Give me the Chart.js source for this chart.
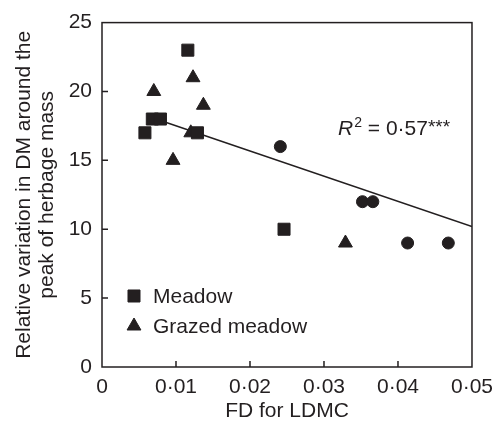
<!DOCTYPE html>
<html>
<head>
<meta charset="utf-8">
<script src="https://cdn.jsdelivr.net/npm/chart.js@4/dist/chart.umd.min.js"></script>
<style>
  html, body { margin: 0; padding: 0; background: #fff; }
  #wrap { width: 501px; height: 430px; position: relative; }
</style>
</head>
<body>
<div id="wrap"><canvas id="c" width="501" height="430"></canvas></div>
<script>
// ---- data ----
const meadowX = [0.0058, 0.0068, 0.0079, 0.0116, 0.0129, 0.0246];
const meadowY = [17, 18, 18, 23, 17, 10];
const grazedX = [0.0070, 0.0123, 0.0137, 0.0120, 0.0096, 0.0329];
const grazedY = [20, 21, 19, 17, 15, 9];
const otherX = [0.0241, 0.0352, 0.0366, 0.0413, 0.0468];
const otherY = [16, 12, 12, 9, 9];
const fitX = [0.0068, 0.05];
const fitY = [18.1, 10.2];
const xTickValues = [0, 0.01, 0.02, 0.03, 0.04, 0.05];
const yTickValues = [0, 5, 10, 15, 20, 25];
const seriesNames = ['Meadow', 'Grazed meadow'];
const r2Label = { base: 'R', sup: '2', rest: ' = 0\u00b757', stars: '***' };
const xTitle = 'FD for LDMC';
const yTitle = ['Relative variation in DM around the', 'peak of herbage mass'];

const INK = '#231f20';
const FONT = "'Liberation Sans', Arial, Helvetica, sans-serif";
const FS = 21;

function pts(xs, ys) { return xs.map((x, i) => ({ x: x, y: ys[i] })); }
function fmtX(v) {
  if (Math.abs(v) < 1e-9) return '0';
  return v.toFixed(2).replace('.', '\u00b7');
}

const framePlugin = {
  id: 'frame',
  afterDatasetsDraw(chart) {
    const { ctx, chartArea: a, scales } = chart;
    ctx.save();
    ctx.strokeStyle = INK;
    ctx.lineWidth = 1.5;
    ctx.strokeRect(a.left, a.top, a.right - a.left, a.bottom - a.top);
    // inward ticks
    ctx.beginPath();
    xTickValues.forEach(v => {
      const px = scales.x.getPixelForValue(v);
      if (px > a.left + 1 && px < a.right - 1) {
        ctx.moveTo(px, a.bottom);
        ctx.lineTo(px, a.bottom - 6);
      }
    });
    yTickValues.forEach(v => {
      const py = scales.y.getPixelForValue(v);
      if (py > a.top + 1 && py < a.bottom - 1) {
        ctx.moveTo(a.left, py);
        ctx.lineTo(a.left + 6, py);
      }
    });
    ctx.stroke();

    // legend (inside plot)
    const lx = 134;
    const items = [
      { style: 'rect', r: 8.5, y: 296, text: seriesNames[0] },
      { style: 'triangle', r: 8, y: 326, text: seriesNames[1] }
    ];
    ctx.fillStyle = INK;
    ctx.font = FS + 'px ' + FONT;
    ctx.textBaseline = 'middle';
    ctx.textAlign = 'left';
    items.forEach(it => {
      ctx.save();
      ctx.fillStyle = INK;
      ctx.strokeStyle = INK;
      ctx.lineWidth = 1;
      Chart.helpers.drawPoint(ctx, { pointStyle: it.style, radius: it.r, rotation: 0, borderWidth: 1 }, lx, it.y);
      ctx.restore();
      ctx.fillText(it.text, 153, it.y + 1);
    });

    // R^2 annotation
    let x = 338, base = 135;
    ctx.textBaseline = 'alphabetic';
    ctx.font = 'italic ' + FS + 'px ' + FONT;
    ctx.fillText(r2Label.base, x, base);
    x += ctx.measureText(r2Label.base).width + 1;
    ctx.font = '14px ' + FONT;
    ctx.fillText(r2Label.sup, x, base - 8);
    x += ctx.measureText(r2Label.sup).width;
    ctx.font = FS + 'px ' + FONT;
    ctx.fillText(r2Label.rest, x, base);
    x += ctx.measureText(r2Label.rest).width;
    ctx.font = '19px ' + FONT;
    ctx.fillText(r2Label.stars, x, base - 2);
    ctx.restore();
  }
};

new Chart(document.getElementById('c'), {
  type: 'scatter',
  data: {
    datasets: [
      {
        label: seriesNames[0], data: pts(meadowX, meadowY),
        pointStyle: 'rect', pointRadius: 8.5, backgroundColor: INK, borderColor: INK, borderWidth: 1
      },
      {
        label: seriesNames[1], data: pts(grazedX, grazedY),
        pointStyle: 'triangle', pointRadius: 8, backgroundColor: INK, borderColor: INK, borderWidth: 1
      },
      {
        label: 'other', data: pts(otherX, otherY),
        pointStyle: 'circle', pointRadius: 6, backgroundColor: INK, borderColor: INK, borderWidth: 1
      },
      {
        label: 'fit', type: 'line', data: pts(fitX, fitY),
        borderColor: INK, borderWidth: 1.6, pointRadius: 0, fill: false, order: 10
      }
    ]
  },
  options: {
    responsive: false,
    animation: false,
    devicePixelRatio: 1,
    layout: { padding: { top: 17, right: 21, left: 0, bottom: 0 } },
    plugins: { legend: { display: false }, tooltip: { enabled: false } },
    scales: {
      x: {
        type: 'linear', min: 0, max: 0.05,
        afterBuildTicks: s => { s.ticks = xTickValues.map(v => ({ value: v })); },
        afterFit: s => { s.height = 63; },
        grid: { display: false, drawTicks: false },
        border: { display: false },
        ticks: {
          color: INK, font: { family: FONT, size: FS }, padding: 8,
          maxRotation: 0, autoSkip: false, callback: v => fmtX(v)
        },
        title: {
          display: true, text: xTitle, color: INK,
          font: { family: FONT, size: FS }, padding: { top: 0, bottom: 6 }
        }
      },
      y: {
        type: 'linear', min: 0, max: 25,
        afterBuildTicks: s => { s.ticks = yTickValues.map(v => ({ value: v })); },
        afterFit: s => { s.width = 102; },
        grid: { display: false, drawTicks: false },
        border: { display: false },
        ticks: { color: INK, font: { family: FONT, size: FS }, padding: 10, autoSkip: false },
        title: {
          display: true, text: yTitle, color: INK,
          font: { family: FONT, size: FS, lineHeight: 1.1 }, padding: { top: 13, bottom: 0 }
        }
      }
    }
  },
  plugins: [framePlugin]
});
</script>
</body>
</html>
